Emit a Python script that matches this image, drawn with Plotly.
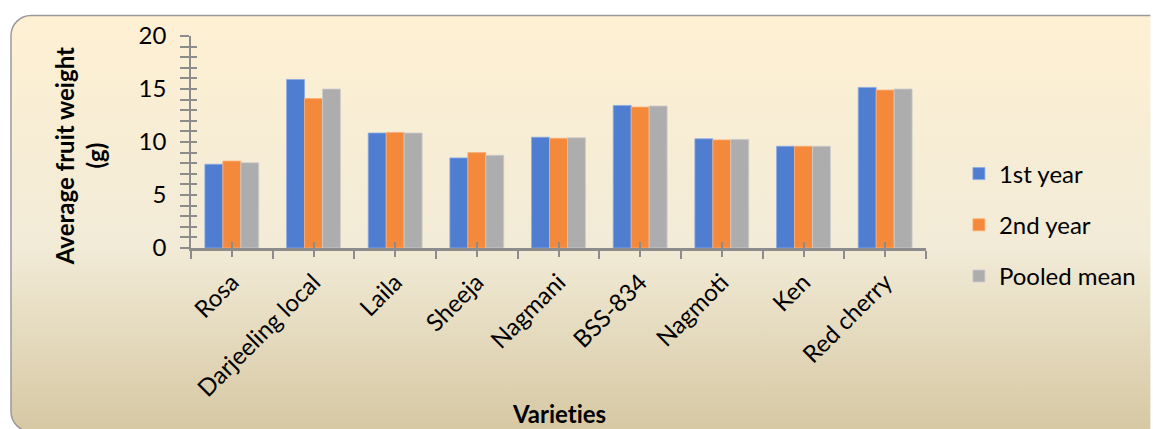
import plotly.graph_objects as go
import base64

varieties = ["Rosa", "Darjeeling local", "Laila", "Sheeja", "Nagmani",
             "BSS-834", "Nagmoti", "Ken", "Red cherry"]
year1 = [7.9, 15.9, 10.85, 8.5, 10.45, 13.45, 10.3, 9.6, 15.15]
year2 = [8.2, 14.1, 10.9, 9.0, 10.35, 13.3, 10.2, 9.6, 14.9]
pooled = [8.05, 15.0, 10.85, 8.75, 10.4, 13.4, 10.25, 9.6, 15.0]
series_names = ["1st year", "2nd year", "Pooled mean"]
y_ticks = [0, 5, 10, 15, 20]

W, H = 1153, 429
L, R, T, B = 191, 225, 36, 181
pw, ph = W - L - R, H - T - B

colors = ["#4F7DD0", "#F5893B", "#ADADAD"]
edge = ["rgba(140,170,230,0.8)", "rgba(250,175,120,0.8)", "rgba(205,205,205,0.8)"]
FONT = "Lato"
AX = "#8c8c8c"

x_idx = list(range(len(varieties)))

fig = go.Figure()
for i, (name, vals) in enumerate(zip(series_names, [year1, year2, pooled])):
    fig.add_trace(go.Bar(
        x=x_idx, y=vals, name=name, legendgroup=name,
        marker=dict(color=colors[i], line=dict(color=edge[i], width=1)),
    ))

# background parchment gradient with rounded border
svg = f'''<svg xmlns="http://www.w3.org/2000/svg" width="{W}" height="{H}" viewBox="0 0 {W} {H}" preserveAspectRatio="none">
<defs><linearGradient id="g" x1="0" y1="0" x2="0" y2="1">
<stop offset="0" stop-color="#FEF0D3"/><stop offset="0.55" stop-color="#F2EBD7"/><stop offset="1" stop-color="#D6C8A3"/>
</linearGradient></defs>
<rect x="10.5" y="15.5" width="1170" height="416" rx="20" ry="20" fill="url(#g)" stroke="#9a9a9a" stroke-width="1.5"/>
</svg>'''
uri = "data:image/svg+xml;base64," + base64.b64encode(svg.encode()).decode()

fig.add_layout_image(dict(
    source=uri, xref="paper", yref="paper",
    x=-L / pw, y=1 + T / ph, sizex=W / pw, sizey=H / ph,
    xanchor="left", yanchor="top", sizing="stretch", layer="below",
))

axis_font = dict(family=FONT, size=24, color="#000000")

fig.update_layout(
    width=W, height=H,
    margin=dict(l=L, r=R, t=T, b=B, pad=0),
    paper_bgcolor="white", plot_bgcolor="rgba(0,0,0,0)",
    barmode="group", bargap=0.34, bargroupgap=0,
    font=dict(family=FONT, size=24, color="#000000"),
    xaxis=dict(
        range=[-0.5, len(varieties) - 0.5],
        tickvals=x_idx, ticktext=varieties, tickangle=-45,
        ticks="outside", ticklen=6, tickcolor=AX, tickwidth=1.5,
        minor=dict(ticks="outside", tick0=0.5, dtick=1, ticklen=8,
                   tickcolor=AX, tickwidth=1.5),
        showline=True, linecolor=AX, linewidth=2.5,
        showgrid=False, zeroline=False, tickfont=axis_font,
        ticklabelstandoff=2,
    ),
    xaxis2=dict(
        overlaying="x", anchor="y", matches="x",
        range=[-0.5, len(varieties) - 0.5],
        tickvals=x_idx, ticks="inside", ticklen=6, tickcolor=AX, tickwidth=1.5,
        showticklabels=False, showline=False, showgrid=False, zeroline=False,
    ),
    yaxis=dict(
        range=[0, 20], tickvals=y_ticks,
        ticks="outside", ticklen=9, tickcolor=AX, tickwidth=1.5,
        minor=dict(ticks="outside", dtick=1, ticklen=9, tickcolor=AX, tickwidth=1.5),
        showline=True, linecolor=AX, linewidth=1.5,
        showgrid=False, zeroline=False, tickfont=axis_font,
        ticklabelstandoff=9,
    ),
    yaxis2=dict(
        overlaying="y", anchor="x", matches="y", range=[0, 20],
        tickvals=y_ticks, ticks="inside", ticklen=6, tickcolor=AX, tickwidth=1.5,
        minor=dict(ticks="inside", dtick=1, ticklen=6, tickcolor=AX, tickwidth=1.5),
        showticklabels=False, showline=False, showgrid=False, zeroline=False,
    ),
    legend=dict(
        x=(961 - L) / pw, xanchor="left",
        y=(T + ph - 225) / ph, yanchor="middle",
        font=dict(family=FONT, size=24, color="#000000"),
        bgcolor="rgba(0,0,0,0)", tracegroupgap=17,
    ),
    showlegend=True,
    annotations=[
        dict(text="<b>Average fruit weight<br>(g)</b>", textangle=-90,
             xref="paper", yref="paper",
             x=(80 - L) / pw, y=(T + ph - 156) / ph,
             xanchor="center", yanchor="middle", showarrow=False,
             font=dict(family=FONT, size=24, color="#000000")),
        dict(text="<b>Variet\u200cies</b>", xref="paper", yref="paper",
             x=0.5, y=(T + ph - 413) / ph,
             xanchor="center", yanchor="middle", showarrow=False,
             font=dict(family=FONT, size=24, color="#000000")),
    ],
)

# invisible traces to materialize the overlay axes
fig.add_trace(go.Scatter(x=[0], y=[0], xaxis="x2", yaxis="y2", mode="markers",
                         marker=dict(opacity=0), showlegend=False, hoverinfo="skip"))

fig.write_html("out.html")
